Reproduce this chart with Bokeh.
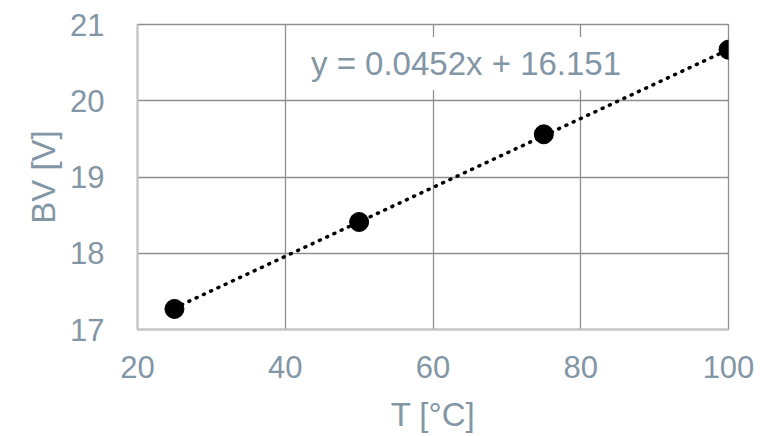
from bokeh.plotting import figure
from bokeh.models import Label, Range1d, FixedTicker
from bokeh.embed import file_html
from bokeh.resources import INLINE

temps = [25, 50, 75, 100]
bv = [17.27, 18.41, 19.56, 20.67]
slope = 0.0452
intercept = 16.151
x_ticks = [20, 40, 60, 80, 100]
y_ticks = [17, 18, 19, 20, 21]

TXT = "#8396a6"
FONT = "Liberation Sans"
GRID = "#8f8f8f"

p = figure(frame_width=591, frame_height=305, output_backend="svg", toolbar_location=None,
           x_range=Range1d(20, 100), y_range=Range1d(17, 21),
           min_border_left=137, min_border_right=47, min_border_top=24, min_border_bottom=107)
p.outline_line_color = GRID
p.outline_line_width = 1.3
p.background_fill_color = "white"

for ax in (p.xaxis[0], p.yaxis[0]):
    ax.major_tick_line_color = None
    ax.minor_tick_line_color = None
    ax.axis_line_color = "#c4c4c4"
    ax.axis_line_width = 2
    ax.major_label_text_font = FONT
    ax.major_label_text_font_size = "31px"
    ax.major_label_text_color = TXT
    ax.axis_label_text_font = FONT
    ax.axis_label_text_font_size = "33px"
    ax.axis_label_text_color = TXT
    ax.axis_label_text_font_style = "normal"

p.xaxis.ticker = FixedTicker(ticks=x_ticks)
p.yaxis.ticker = FixedTicker(ticks=y_ticks)
p.xaxis.axis_label = "T [°C]"
p.yaxis.axis_label = "BV [V]"
p.xaxis.major_label_standoff = 20
p.yaxis.major_label_standoff = 27
p.xaxis.axis_label_standoff = 15
p.yaxis.axis_label_standoff = 5

for g in (p.xgrid[0], p.ygrid[0]):
    g.grid_line_color = GRID
    g.grid_line_width = 1.3

trend_x = [temps[0], temps[-1]]
trend_y = [slope * t + intercept for t in trend_x]
p.line(trend_x, trend_y, line_color="black", line_width=3.5, line_dash="1 7", line_cap="round")
p.scatter(temps, bv, size=19, fill_color="black", line_color="black")

lab = Label(x=42.4, y=20.49, text="y = 0.0452x + 16.151", text_font=FONT, text_font_size="33px",
            text_color=TXT, text_align="left", text_baseline="middle",
            background_fill_color="white", padding=8)
p.add_layout(lab)

open("out.html", "w").write(file_html(p, INLINE))
